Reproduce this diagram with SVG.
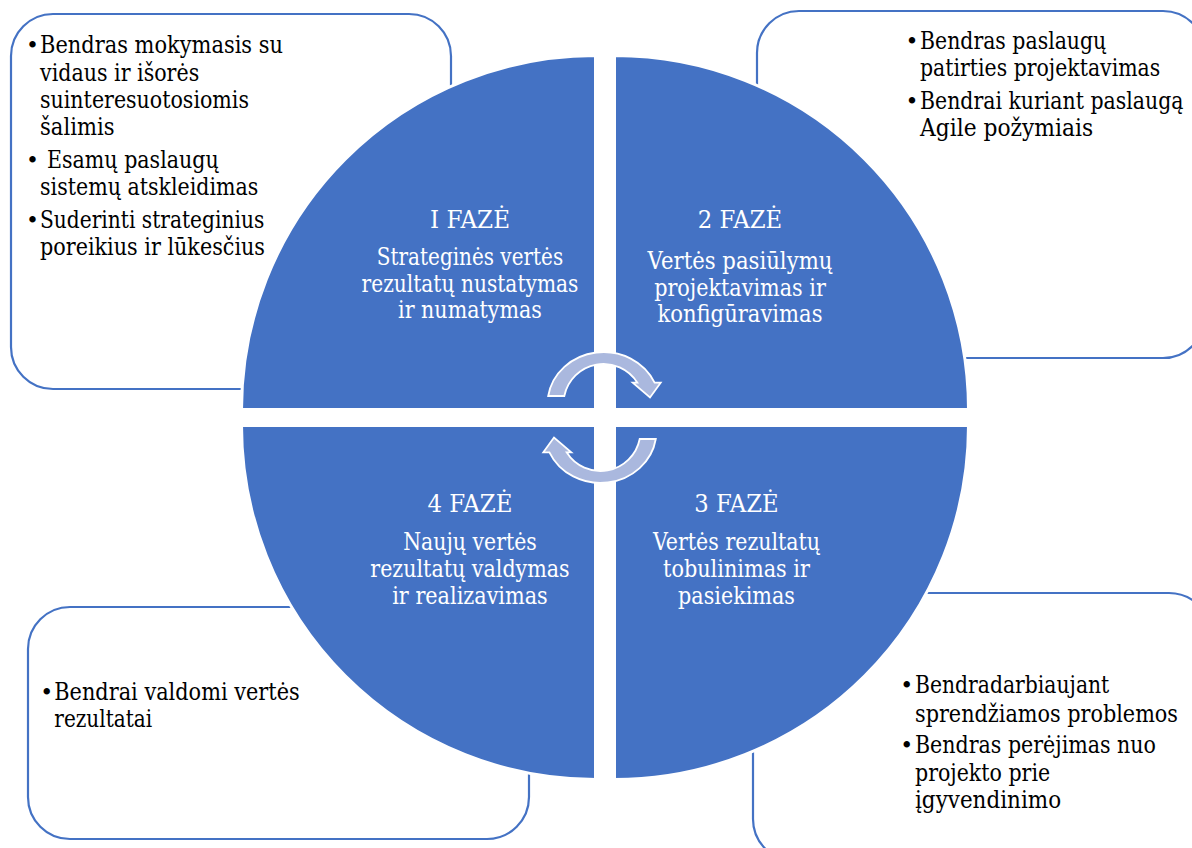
<svg xmlns="http://www.w3.org/2000/svg" width="1192" height="848" viewBox="0 0 1192 848">
<style>
.box{fill:#fff;stroke:#4472C4;stroke-width:2.2}
.quad{fill:#4472C4;stroke:#fff;stroke-width:3}
.arrow{fill:#AAB8DE;stroke:#fff;stroke-width:1.8;stroke-linejoin:miter}
text{font-family:"DejaVu Serif","Liberation Serif",serif;font-size:23.5px}
.t{fill:#000}
.b{fill:#000;font-size:22px}
.w{fill:#fff;text-anchor:middle}
</style>
<rect width="1192" height="848" fill="#fff"/>

<g id="box1">
<rect class="box" x="11" y="14" width="440" height="375" rx="42" ry="42"/>
</g>
<g id="box2">
<rect class="box" x="757" y="11" width="448" height="347" rx="42" ry="42"/>
</g>
<g id="box3">
<rect class="box" x="753" y="593" width="458" height="268" rx="42" ry="42"/>
</g>
<g id="box4">
<rect class="box" x="28" y="607" width="501" height="232" rx="42" ry="42"/>
</g>

<g id="phase1">
<path class="quad" d="M 595.5 409.5 L 241.5 409.5 A 354 354 0 0 1 595.5 55.5 Z"/>
</g>
<g id="phase2">
<path class="quad" d="M 614.5 409.5 L 614.5 55.5 A 354 354 0 0 1 968.5 409.5 Z"/>
</g>
<g id="phase3">
<path class="quad" d="M 614.5 425.5 L 968.5 425.5 A 354 354 0 0 1 614.5 779.5 Z"/>
</g>
<g id="phase4">
<path class="quad" d="M 595.5 425.5 L 595.5 779.5 A 354 354 0 0 1 241.5 425.5 Z"/>
</g>

<g id="connectors">
<path id="arrowTop" class="arrow" d="M 548.2 396 A 56 52 0 0 1 654.6 382.7 L 660.7 382.7 L 650 397.5 L 632.7 382.7 L 637.4 382.7 A 40 40 0 0 0 564.3 396 Z"/>
<path id="arrowBottom" class="arrow" d="M 548.2 396 A 56 52 0 0 1 654.6 382.7 L 660.7 382.7 L 650 397.5 L 632.7 382.7 L 637.4 382.7 A 40 40 0 0 0 564.3 396 Z" transform="rotate(180 602 417.5)"/>
</g>

<g id="text1">
<text class="b" x="26" y="53.3">•</text>
<text class="t" x="40" y="53.3" textLength="243" lengthAdjust="spacingAndGlyphs">Bendras mokymasis su</text>
<text class="t" x="40" y="80.5" textLength="159.2" lengthAdjust="spacingAndGlyphs">vidaus ir išorės</text>
<text class="t" x="40" y="107.7" textLength="209" lengthAdjust="spacingAndGlyphs">suinteresuotosiomis</text>
<text class="t" x="40" y="135" textLength="74.5" lengthAdjust="spacingAndGlyphs">šalimis</text>
<text class="b" x="26" y="168.3">•</text>
<text class="t" x="47" y="168.3" textLength="171.7" lengthAdjust="spacingAndGlyphs">Esamų paslaugų</text>
<text class="t" x="40" y="195.3" textLength="218.4" lengthAdjust="spacingAndGlyphs">sistemų atskleidimas</text>
<text class="b" x="26" y="228.3">•</text>
<text class="t" x="40" y="228.3" textLength="224.3" lengthAdjust="spacingAndGlyphs">Suderinti strateginius</text>
<text class="t" x="40" y="255.3" textLength="225" lengthAdjust="spacingAndGlyphs">poreikius ir lūkesčius</text>
</g>
<g id="text2">
<text class="b" x="905.5" y="49.3">•</text>
<text class="t" x="920" y="49.3" textLength="186.3" lengthAdjust="spacingAndGlyphs">Bendras paslaugų</text>
<text class="t" x="920" y="76.3" textLength="240.3" lengthAdjust="spacingAndGlyphs">patirties projektavimas</text>
<text class="b" x="905.5" y="109.3">•</text>
<text class="t" x="920" y="109.3" textLength="263.5" lengthAdjust="spacingAndGlyphs">Bendrai kuriant paslaugą</text>
<text class="t" x="920" y="136" textLength="173.1" lengthAdjust="spacingAndGlyphs">Agile požymiais</text>
</g>
<g id="text3">
<text class="b" x="900.3" y="693.3">•</text>
<text class="t" x="915" y="693.3" textLength="194.3" lengthAdjust="spacingAndGlyphs">Bendradarbiaujant</text>
<text class="t" x="915" y="721.5" textLength="263" lengthAdjust="spacingAndGlyphs">sprendžiamos problemos</text>
<text class="b" x="900.3" y="753.3">•</text>
<text class="t" x="915" y="753.3" textLength="241" lengthAdjust="spacingAndGlyphs">Bendras perėjimas nuo</text>
<text class="t" x="915" y="781.3" textLength="135.1" lengthAdjust="spacingAndGlyphs">projekto prie</text>
<text class="t" x="915" y="808.3" textLength="146.1" lengthAdjust="spacingAndGlyphs">įgyvendinimo</text>
</g>
<g id="text4">
<text class="b" x="40.3" y="700">•</text>
<text class="t" x="54.3" y="700" textLength="245.4" lengthAdjust="spacingAndGlyphs">Bendrai valdomi vertės</text>
<text class="t" x="54.3" y="727.3" textLength="97.9" lengthAdjust="spacingAndGlyphs">rezultatai</text>
</g>

<g id="label1">
<text class="w" x="470" y="227.5" textLength="80" lengthAdjust="spacingAndGlyphs">I FAZĖ</text>
<text class="w" x="470" y="264.5" textLength="186.3" lengthAdjust="spacingAndGlyphs">Strateginės vertės</text>
<text class="w" x="470" y="291.5" textLength="216.9" lengthAdjust="spacingAndGlyphs">rezultatų nustatymas</text>
<text class="w" x="470" y="318" textLength="143.9" lengthAdjust="spacingAndGlyphs">ir numatymas</text>
</g>
<g id="label2">
<text class="w" x="740" y="228.3" textLength="84.5" lengthAdjust="spacingAndGlyphs">2 FAZĖ</text>
<text class="w" x="740" y="268.5" textLength="184.8" lengthAdjust="spacingAndGlyphs">Vertės pasiūlymų</text>
<text class="w" x="740" y="295.5" textLength="171.7" lengthAdjust="spacingAndGlyphs">projektavimas ir</text>
<text class="w" x="740" y="322" textLength="165.1" lengthAdjust="spacingAndGlyphs">konfigūravimas</text>
</g>
<g id="label3">
<text class="w" x="736.5" y="512.3" textLength="84.5" lengthAdjust="spacingAndGlyphs">3 FAZĖ</text>
<text class="w" x="736.5" y="550" textLength="167.2" lengthAdjust="spacingAndGlyphs">Vertės rezultatų</text>
<text class="w" x="736.5" y="577" textLength="146.9" lengthAdjust="spacingAndGlyphs">tobulinimas ir</text>
<text class="w" x="736.5" y="604" textLength="116.9" lengthAdjust="spacingAndGlyphs">pasiekimas</text>
</g>
<g id="label4">
<text class="w" x="470" y="512.3" textLength="85" lengthAdjust="spacingAndGlyphs">4 FAZĖ</text>
<text class="w" x="470" y="550" textLength="133.7" lengthAdjust="spacingAndGlyphs">Naujų vertės</text>
<text class="w" x="470" y="577" textLength="199.4" lengthAdjust="spacingAndGlyphs">rezultatų valdymas</text>
<text class="w" x="470" y="603.5" textLength="155.6" lengthAdjust="spacingAndGlyphs">ir realizavimas</text>
</g>
</svg>
